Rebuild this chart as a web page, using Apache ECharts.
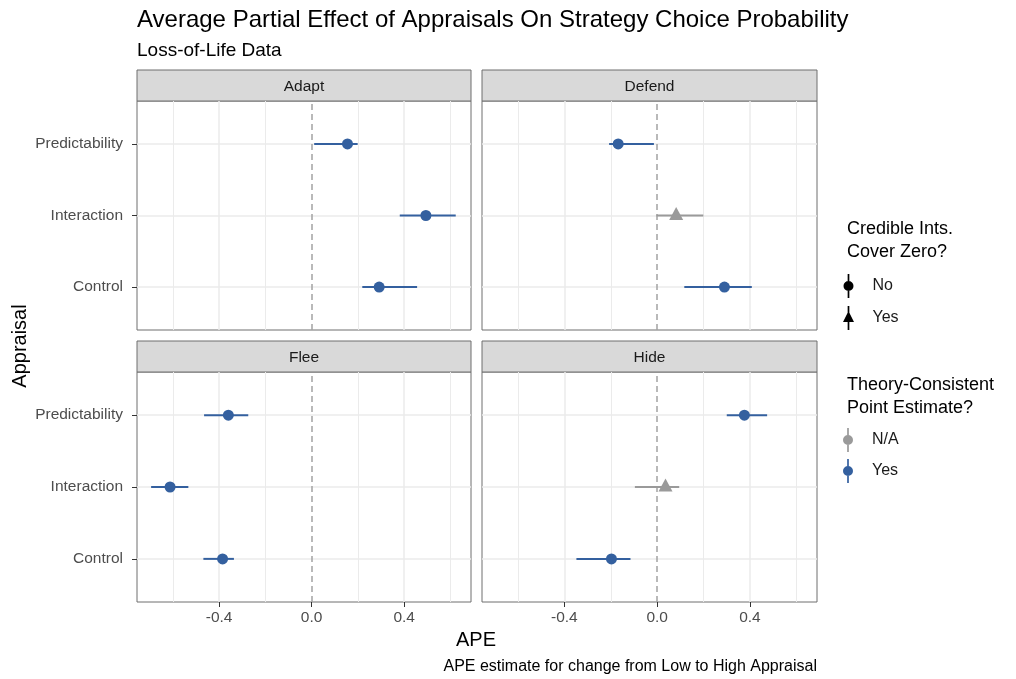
<!DOCTYPE html>
<html>
<head>
<meta charset="utf-8">
<title>Average Partial Effect of Appraisals</title>
<script src="https://cdn.jsdelivr.net/npm/echarts@6/dist/echarts.min.js"></script>
<style>
  html, body { margin: 0; padding: 0; background: #fff; }
  #chart { width: 1016px; height: 679px; }
</style>
</head>
<body>
<div id="chart"></div>
<script>
// facets and rows (bottom to top)
var panels = ['Adapt', 'Defend', 'Flee', 'Hide'];
var appraisals = ['Control', 'Interaction', 'Predictability'];
var xTicks = [-0.4, 0, 0.4];
var xMinor = [-0.6, -0.2, 0.2, 0.6];

// APE point estimates and credible interval ends, rows as in appraisals
var adaptEst = [0.292, 0.494, 0.155];
var adaptLow = [0.219, 0.381, 0.011];
var adaptHigh = [0.456, 0.623, 0.199];
var adaptCover = ['No', 'No', 'No'];
var adaptTheory = ['Yes', 'Yes', 'Yes'];

var defendEst = [0.290, 0.082, -0.168];
var defendLow = [0.117, -0.003, -0.207];
var defendHigh = [0.408, 0.199, -0.014];
var defendCover = ['No', 'Yes', 'No'];
var defendTheory = ['Yes', 'N/A', 'Yes'];

var fleeEst = [-0.385, -0.612, -0.360];
var fleeLow = [-0.468, -0.694, -0.465];
var fleeHigh = [-0.336, -0.533, -0.274];
var fleeCover = ['No', 'No', 'No'];
var fleeTheory = ['Yes', 'Yes', 'Yes'];

var hideEst = [-0.197, 0.036, 0.376];
var hideLow = [-0.348, -0.096, 0.300];
var hideHigh = [-0.115, 0.095, 0.474];
var hideCover = ['No', 'Yes', 'No'];
var hideTheory = ['Yes', 'N/A', 'Yes'];

var panelData = [
  [adaptEst, adaptLow, adaptHigh, adaptCover, adaptTheory],
  [defendEst, defendLow, defendHigh, defendCover, defendTheory],
  [fleeEst, fleeLow, fleeHigh, fleeCover, fleeTheory],
  [hideEst, hideLow, hideHigh, hideCover, hideTheory]
];

var BLUE = '#34609f';
var GRAY = '#9a9a9a';
var FONT = '"Liberation Sans", Arial, Helvetica, sans-serif';

var boxes = [
  {left: 137, top: 101, width: 334, height: 229},
  {left: 482, top: 101, width: 335, height: 229},
  {left: 137, top: 372, width: 334, height: 230},
  {left: 482, top: 372, width: 335, height: 230}
];

var circleKey = 'path://M4.15,0h1.7v24h-1.7z M0,12a5,5 0 1 1 10,0a5,5 0 1 1 -10,0z';
var triKey = 'path://M4.15,0h1.7v24h-1.7z M5,5L10.5,16H-0.5z';
var keyText = {cz_no: 'No', cz_yes: 'Yes', tc_na: 'N/A', tc_yes: 'Yes'};

var grid = [], xAxis = [], yAxis = [], series = [], graphic = [];

boxes.forEach(function (b, i) {
  var bottomRow = i >= 2;
  var leftCol = i % 2 === 0;
  grid.push({
    left: b.left, top: b.top, width: b.width, height: b.height,
    show: true, backgroundColor: '#fff', borderColor: '#6e6e6e', borderWidth: 1
  });
  xAxis.push({
    type: 'value', gridIndex: i, min: -0.755, max: 0.689, position: 'bottom',
    axisLine: {show: false, onZero: false},
    splitLine: {show: false},
    axisTick: {show: bottomRow, customValues: xTicks, length: 5, lineStyle: {color: '#333'}},
    axisLabel: {
      show: bottomRow, customValues: xTicks, margin: 8,
      color: '#4d4d4d', fontSize: 15.5, fontFamily: FONT,
      formatter: function (v) { return v.toFixed(1); }
    }
  });
  yAxis.push({
    type: 'value', gridIndex: i, min: 0.4, max: 3.6, position: 'left',
    axisLine: {show: false, onZero: false},
    splitLine: {show: false},
    axisTick: {show: leftCol, customValues: [1, 2, 3], length: 5, lineStyle: {color: '#333'}},
    axisLabel: {
      show: leftCol, customValues: [1, 2, 3], margin: 14,
      color: '#4d4d4d', fontSize: 15.5, fontFamily: FONT,
      formatter: function (v) { return appraisals[Math.round(v) - 1]; }
    }
  });

  // background grid lines and the dashed zero line
  var lines = [];
  xMinor.forEach(function (v) { lines.push({xAxis: v, lineStyle: {width: 1}}); });
  xTicks.forEach(function (v) { if (v !== 0) lines.push({xAxis: v}); });
  appraisals.forEach(function (c, j) { lines.push({yAxis: j + 1}); });
  lines.push({xAxis: 0, lineStyle: {color: '#a3a3a3', type: [6, 4], width: 1.5}});
  series.push({
    type: 'scatter', xAxisIndex: i, yAxisIndex: i, data: [], z: 1, silent: true,
    markLine: {
      silent: true, z: 1, symbol: ['none', 'none'], label: {show: false},
      lineStyle: {color: '#ebebeb', type: 'solid', width: 1.5},
      emphasis: {disabled: true},
      data: lines
    }
  });

  var d = panelData[i];
  // credible intervals
  series.push({
    type: 'custom', xAxisIndex: i, yAxisIndex: i, z: 3, silent: true,
    data: appraisals.map(function (c, j) {
      return [d[1][j], d[2][j], j + 1, d[4][j] === 'Yes' ? 1 : 0];
    }),
    encode: {x: [0, 1], y: 2},
    renderItem: function (params, api) {
      var p1 = api.coord([api.value(0), api.value(2)]);
      var p2 = api.coord([api.value(1), api.value(2)]);
      return {
        type: 'line',
        shape: {x1: p1[0], y1: p1[1], x2: p2[0], y2: p2[1]},
        style: {stroke: api.value(3) ? BLUE : GRAY, lineWidth: 2, opacity: 1}
      };
    }
  });
  // point estimates
  series.push({
    type: 'scatter', xAxisIndex: i, yAxisIndex: i, z: 4, silent: true,
    itemStyle: {opacity: 1},
    data: appraisals.map(function (c, j) {
      var tri = d[3][j] === 'Yes';
      return {
        value: [d[0][j], j + 1],
        symbol: tri ? 'triangle' : 'circle',
        symbolSize: tri ? [14, 13] : 11,
        symbolOffset: tri ? [0, -2] : [0, 0],
        itemStyle: {color: d[4][j] === 'Yes' ? BLUE : GRAY, opacity: 1}
      };
    })
  });

  // facet strip
  var sy = bottomRow ? 341 : 70;
  graphic.push({
    type: 'rect', silent: true,
    shape: {x: b.left, y: sy, width: b.width, height: b.top - sy},
    style: {fill: '#d9d9d9', stroke: '#6e6e6e', lineWidth: 1}
  });
  graphic.push({
    type: 'text', silent: true,
    x: b.left + b.width / 2, y: (sy + b.top) / 2 + 1,
    style: {
      text: panels[i], textAlign: 'center', textVerticalAlign: 'middle',
      fontSize: 15.5, fontFamily: FONT, fill: '#1a1a1a'
    }
  });
});

// legend-only series
[['cz_no', '#000'], ['cz_yes', '#000'], ['tc_na', GRAY], ['tc_yes', BLUE]].forEach(function (s) {
  series.push({name: s[0], type: 'scatter', xAxisIndex: 0, yAxisIndex: 0, data: [],
    itemStyle: {color: s[1], opacity: 1}});
});

graphic.push({
  type: 'text', silent: true, x: 20, y: 346, rotation: Math.PI / 2,
  style: {text: 'Appraisal', textAlign: 'center', textVerticalAlign: 'middle', fontSize: 20, fontFamily: FONT, fill: '#000'}
});

var legendBase = {
  orient: 'vertical', padding: 0, itemWidth: 38, itemHeight: 24,
  symbolKeepAspect: true, selectedMode: false,
  itemStyle: {opacity: 1},
  textStyle: {fontSize: 16, fontFamily: FONT, color: '#1a1a1a'},
  formatter: function (n) { return keyText[n]; }
};

var option = {
  animation: false,
  backgroundColor: '#fff',
  textStyle: {fontFamily: FONT},
  title: [
    {text: 'Average Partial Effect of Appraisals On Strategy Choice Probability', left: 137, top: 8, padding: 0,
      textStyle: {fontSize: 24, fontWeight: 'normal', color: '#000', fontFamily: FONT}},
    {text: 'Loss-of-Life Data', left: 137, top: 41, padding: 0,
      textStyle: {fontSize: 19, fontWeight: 'normal', color: '#000', fontFamily: FONT}},
    {text: 'Credible Ints.\nCover Zero?', left: 847, top: 218, padding: 0,
      textStyle: {fontSize: 18, lineHeight: 23, fontWeight: 'normal', color: '#000', fontFamily: FONT}},
    {text: 'Theory-Consistent\nPoint Estimate?', left: 847, top: 374, padding: 0,
      textStyle: {fontSize: 18, lineHeight: 23, fontWeight: 'normal', color: '#000', fontFamily: FONT}},
    {text: 'APE', left: 456, top: 630, padding: 0,
      textStyle: {fontSize: 20, fontWeight: 'normal', color: '#000', fontFamily: FONT}},
    {text: 'APE estimate for change from Low to High Appraisal', right: 199, top: 659, padding: 0,
      textStyle: {fontSize: 16, fontWeight: 'normal', color: '#000', fontFamily: FONT}}
  ],
  legend: [
    Object.assign({}, legendBase, {
      left: 843, top: 274, itemGap: 8,
      data: [{name: 'cz_no', icon: circleKey}, {name: 'cz_yes', icon: triKey}]
    }),
    Object.assign({}, legendBase, {
      left: 843, top: 428, itemGap: 7,
      data: [{name: 'tc_na', icon: circleKey}, {name: 'tc_yes', icon: circleKey}]
    })
  ],
  grid: grid,
  xAxis: xAxis,
  yAxis: yAxis,
  series: series,
  graphic: graphic
};

var chart = echarts.init(document.getElementById('chart'), null, {renderer: 'canvas'});
chart.setOption(option);
</script>
</body>
</html>
